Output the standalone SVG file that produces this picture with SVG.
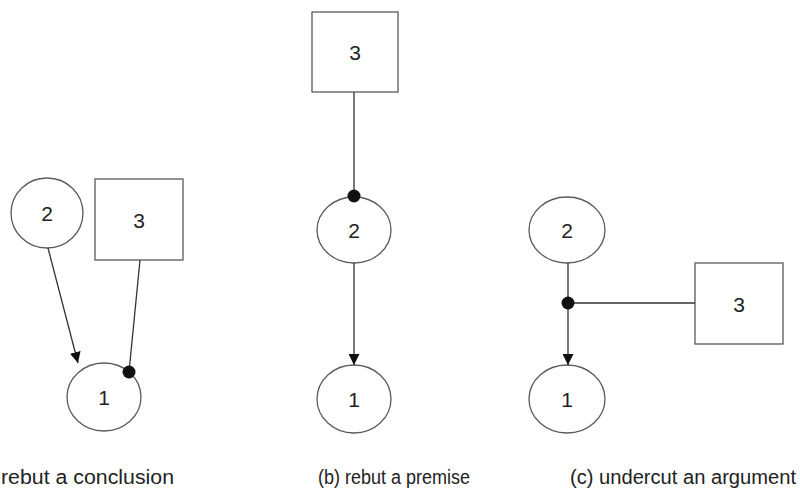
<svg xmlns="http://www.w3.org/2000/svg" width="800" height="497" viewBox="0 0 800 497">
<style>
.n{fill:#fff;stroke:#5a5a5a;stroke-width:1.3}
.t{font-family:"Liberation Sans",Arial,sans-serif;font-size:21px;fill:#222;text-anchor:middle;dominant-baseline:central}
.e{stroke:#333;stroke-width:1.3;fill:none}
.c{font-family:"Liberation Sans",Arial,sans-serif;font-size:20px;fill:#222}
</style>
<defs>
<marker id="ar" viewBox="0 0 10 10" refX="10" refY="5" markerWidth="11" markerHeight="11" markerUnits="userSpaceOnUse" orient="auto"><path d="M0,0L10,5L0,10z" fill="#111"/></marker>
</defs>
<rect width="800" height="497" fill="#fff"/>
<g id="a2"><ellipse class="n" cx="47" cy="213" rx="36" ry="35"/><text class="t" x="47" y="213">2</text></g>
<g id="a3"><rect class="n" x="95" y="179" width="88" height="81"/><text class="t" x="139" y="220">3</text></g>
<g id="a1"><ellipse class="n" cx="104" cy="397" rx="37" ry="34"/><text class="t" x="104" y="397">1</text></g>
<g id="b3"><rect class="n" x="312" y="12" width="86" height="80"/><text class="t" x="355" y="52">3</text></g>
<g id="b2"><ellipse class="n" cx="354" cy="230" rx="37" ry="33"/><text class="t" x="354" y="230">2</text></g>
<g id="b1"><ellipse class="n" cx="354" cy="399" rx="37" ry="34"/><text class="t" x="354" y="399">1</text></g>
<g id="c2"><ellipse class="n" cx="567" cy="230" rx="38" ry="33"/><text class="t" x="567" y="230">2</text></g>
<g id="c3"><rect class="n" x="695" y="263" width="88" height="81"/><text class="t" x="739" y="304">3</text></g>
<g id="c1"><ellipse class="n" cx="567" cy="399" rx="38" ry="34"/><text class="t" x="567" y="399">1</text></g>
<g id="connectors">
<line class="e" x1="48" y1="248" x2="78" y2="363" marker-end="url(#ar)"/>
<line class="e" x1="140" y1="260" x2="129" y2="372"/>
<circle cx="129" cy="372" r="6.5" fill="#111"/>
<line class="e" x1="354" y1="92" x2="354" y2="197"/>
<circle cx="354" cy="196" r="6.5" fill="#111"/>
<line class="e" x1="354" y1="263" x2="354" y2="365" marker-end="url(#ar)"/>
<line class="e" x1="568" y1="263" x2="568" y2="365" marker-end="url(#ar)"/>
<line class="e" x1="568" y1="303" x2="695" y2="303"/>
<circle cx="568" cy="303" r="6.5" fill="#111"/>
</g>
<text class="c" x="1" y="484" textLength="173" lengthAdjust="spacingAndGlyphs">rebut a conclusion</text>
<text class="c" x="318" y="484" textLength="152" lengthAdjust="spacingAndGlyphs">(b) rebut a premise</text>
<text class="c" x="570" y="484" textLength="226" lengthAdjust="spacingAndGlyphs">(c) undercut an argument</text>
</svg>
